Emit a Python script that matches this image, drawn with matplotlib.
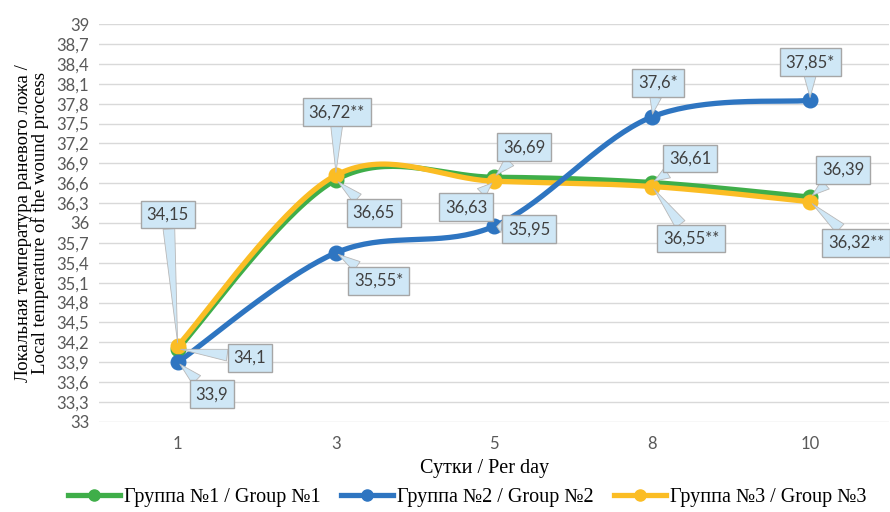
import numpy as np
import matplotlib.pyplot as plt

# Данные
days = ['1', '3', '5', '8', '10']
group1 = [34.1, 36.65, 36.69, 36.61, 36.39]
group2 = [33.9, 35.55, 35.95, 37.6, 37.85]
group3 = [34.15, 36.72, 36.63, 36.55, 36.32]
labels1 = ['34,1', '36,65', '36,69', '36,61', '36,39']
labels2 = ['33,9', '35,55*', '35,95', '37,6*', '37,85*']
labels3 = ['34,15', '36,72**', '36,63', '36,55**', '36,32**']
names = ['Группа №1 / Group №1', 'Группа №2 / Group №2', 'Группа №3 / Group №3']

# Смещения выносок (пиксели)
offs1 = [(72, -9), (38, -33), (30, 30), (38, 24), (33, 27)]
offs2 = [(34, -32), (43, -28), (35, -3), (6, 34), (0, 38)]
offs3 = [(-10, 131), (1, 63), (-28, -26), (39, -52), (46, -41)]

colors = ['#3fae49', '#2e75c1', '#fbbd24']


# Сглаживание как в Excel (кривые Безье через точки)
def smooth(y, n=40):
    x = np.arange(len(y), dtype=float)
    y = np.asarray(y, dtype=float)
    xs, ys = [], []
    for i in range(len(y) - 1):
        i0 = max(i - 1, 0)
        i3 = min(i + 2, len(y) - 1)
        p0 = np.array([x[i], y[i]])
        p3 = np.array([x[i + 1], y[i + 1]])
        p1 = p0 + (p3 - np.array([x[i0], y[i0]])) / 6
        p2 = p3 - (np.array([x[i3], y[i3]]) - p0) / 6
        t = np.linspace(0, 1, n)[:, None]
        pts = (1 - t)**3 * p0 + 3 * (1 - t)**2 * t * p1 + 3 * (1 - t) * t**2 * p2 + t**3 * p3
        xs.extend(pts[:, 0])
        ys.extend(pts[:, 1])
    return np.array(xs), np.array(ys)


fig = plt.figure(figsize=(8.9, 5.12), dpi=100)
ax = fig.add_axes([0.111, 0.176, 0.888, 0.777])

x = np.arange(len(days))
series = [(group1, labels1, offs1, colors[0], 3),
          (group2, labels2, offs2, colors[1], 5),
          (group3, labels3, offs3, colors[2], 4)]

handles = []
for (vals, labs, offs, c, z), name in zip(series, names):
    sx, sy = smooth(vals)
    ax.plot(sx, sy, color=c, lw=3.8, zorder=z, solid_capstyle='round')
    ax.plot(x, vals, 'o', color=c, ms=10.5, zorder=z)
    h, = ax.plot([], [], color=c, lw=3.8, marker='o', ms=8, label=name)
    handles.append(h)
    for xi, v, lab, (dx, dy) in zip(x, vals, labs, offs):
        ax.annotate(lab, (xi, v), xytext=(dx, dy), textcoords='offset pixels',
                    ha='center', va='center', fontsize=12, color='#404040',
                    family='Lato', zorder=10,
                    bbox=dict(boxstyle='square,pad=0.35', fc='#cfe7f6', ec='#a6a6a6', lw=1),
                    arrowprops=dict(arrowstyle='wedge,tail_width=0.7', fc='#cfe7f6',
                                    ec='#b8b8b8', lw=0.6, shrinkA=0, shrinkB=2))

yt = np.round(np.arange(33, 39.01, 0.3), 1)
ax.set_yticks(yt)
ax.set_yticklabels([('%g' % v).replace('.', ',') for v in yt], family='Lato',
                   fontsize=12, color='#595959')
ax.set_ylim(33, 39)
ax.set_xlim(-0.5, len(days) - 0.5)
ax.set_xticks(x)
ax.set_xticklabels(days, family='Lato', fontsize=12, color='#595959')
ax.tick_params(axis='y', length=0, pad=7)
ax.tick_params(axis='x', length=0, pad=10)
ax.grid(axis='y', color='#d9d9d9', lw=1)
ax.set_axisbelow(True)
for s in ax.spines.values():
    s.set_visible(False)

ax.set_xlabel('Сутки / Per day', family='Liberation Serif', fontsize=14.5)
ax.xaxis.set_label_coords(0.488, -0.093)
ax.set_ylabel('Локальная температура раневого ложа /\nLocal temperature of the wound process',
              family='Liberation Serif', fontsize=13.5, labelpad=5, linespacing=1.0)

fig.legend(handles=handles, loc='center', bbox_to_anchor=(0.525, 0.028), ncol=3,
           frameon=False, prop={'family': 'Liberation Serif', 'size': 14.5},
           handlelength=2.6, columnspacing=1.0, handletextpad=0.2)

fig.savefig('out.png', dpi=100)
